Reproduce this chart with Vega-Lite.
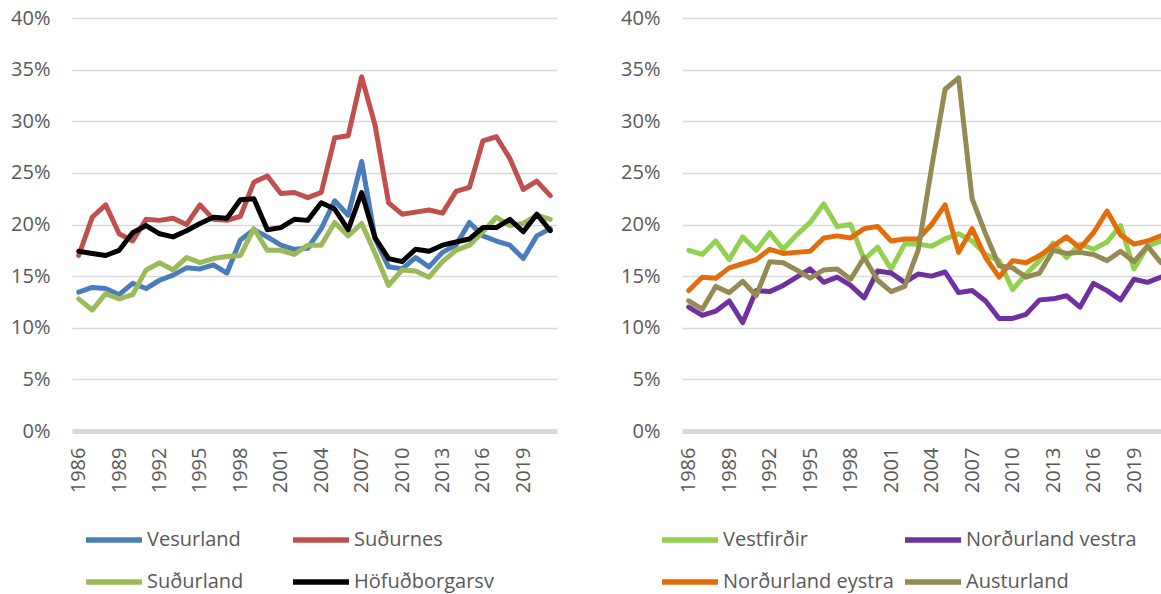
{
  "$schema": "https://vega.github.io/schema/vega-lite/v6.json",
  "padding": {"left": 10, "top": 8, "right": 0, "bottom": 0},
  "spacing": 63,
  "background": "white",
  "resolve": {"scale": {"color": "independent"}, "legend": {"color": "independent"}},
  "config": {
    "view": {"stroke": null},
    "font": "Open Sans",
    "axis": {"labelFont": "Open Sans", "labelColor": "#595959", "labelFontSize": 20},
    "legend": {"labelFont": "Open Sans", "labelColor": "#595959", "labelFontSize": 20, "labelLimit": 400}
  },
  "datasets": {
    "west": [
      {"region":"Vesurland","year":1986,"value":0.1345},{"region":"Vesurland","year":1987,"value":0.139},{"region":"Vesurland","year":1988,"value":0.138},{"region":"Vesurland","year":1989,"value":0.132},{"region":"Vesurland","year":1990,"value":0.143},{"region":"Vesurland","year":1991,"value":0.138},{"region":"Vesurland","year":1992,"value":0.146},{"region":"Vesurland","year":1993,"value":0.151},{"region":"Vesurland","year":1994,"value":0.158},{"region":"Vesurland","year":1995,"value":0.157},{"region":"Vesurland","year":1996,"value":0.161},{"region":"Vesurland","year":1997,"value":0.153},{"region":"Vesurland","year":1998,"value":0.185},{"region":"Vesurland","year":1999,"value":0.195},{"region":"Vesurland","year":2000,"value":0.188},{"region":"Vesurland","year":2001,"value":0.18},{"region":"Vesurland","year":2002,"value":0.176},{"region":"Vesurland","year":2003,"value":0.177},{"region":"Vesurland","year":2004,"value":0.196},{"region":"Vesurland","year":2005,"value":0.223},{"region":"Vesurland","year":2006,"value":0.209},{"region":"Vesurland","year":2007,"value":0.261},{"region":"Vesurland","year":2008,"value":0.186},{"region":"Vesurland","year":2009,"value":0.159},{"region":"Vesurland","year":2010,"value":0.157},{"region":"Vesurland","year":2011,"value":0.168},{"region":"Vesurland","year":2012,"value":0.159},{"region":"Vesurland","year":2013,"value":0.173},{"region":"Vesurland","year":2014,"value":0.18},{"region":"Vesurland","year":2015,"value":0.202},{"region":"Vesurland","year":2016,"value":0.189},{"region":"Vesurland","year":2017,"value":0.184},{"region":"Vesurland","year":2018,"value":0.18},{"region":"Vesurland","year":2019,"value":0.167},{"region":"Vesurland","year":2020,"value":0.189},{"region":"Vesurland","year":2021,"value":0.196},
      {"region":"Suðurnes","year":1986,"value":0.17},{"region":"Suðurnes","year":1987,"value":0.207},{"region":"Suðurnes","year":1988,"value":0.219},{"region":"Suðurnes","year":1989,"value":0.191},{"region":"Suðurnes","year":1990,"value":0.184},{"region":"Suðurnes","year":1991,"value":0.205},{"region":"Suðurnes","year":1992,"value":0.204},{"region":"Suðurnes","year":1993,"value":0.206},{"region":"Suðurnes","year":1994,"value":0.2},{"region":"Suðurnes","year":1995,"value":0.219},{"region":"Suðurnes","year":1996,"value":0.205},{"region":"Suðurnes","year":1997,"value":0.204},{"region":"Suðurnes","year":1998,"value":0.208},{"region":"Suðurnes","year":1999,"value":0.241},{"region":"Suðurnes","year":2000,"value":0.247},{"region":"Suðurnes","year":2001,"value":0.23},{"region":"Suðurnes","year":2002,"value":0.231},{"region":"Suðurnes","year":2003,"value":0.226},{"region":"Suðurnes","year":2004,"value":0.231},{"region":"Suðurnes","year":2005,"value":0.284},{"region":"Suðurnes","year":2006,"value":0.286},{"region":"Suðurnes","year":2007,"value":0.343},{"region":"Suðurnes","year":2008,"value":0.296},{"region":"Suðurnes","year":2009,"value":0.221},{"region":"Suðurnes","year":2010,"value":0.21},{"region":"Suðurnes","year":2011,"value":0.212},{"region":"Suðurnes","year":2012,"value":0.214},{"region":"Suðurnes","year":2013,"value":0.211},{"region":"Suðurnes","year":2014,"value":0.232},{"region":"Suðurnes","year":2015,"value":0.236},{"region":"Suðurnes","year":2016,"value":0.281},{"region":"Suðurnes","year":2017,"value":0.285},{"region":"Suðurnes","year":2018,"value":0.264},{"region":"Suðurnes","year":2019,"value":0.234},{"region":"Suðurnes","year":2020,"value":0.242},{"region":"Suðurnes","year":2021,"value":0.228},
      {"region":"Suðurland","year":1986,"value":0.128},{"region":"Suðurland","year":1987,"value":0.117},{"region":"Suðurland","year":1988,"value":0.133},{"region":"Suðurland","year":1989,"value":0.128},{"region":"Suðurland","year":1990,"value":0.132},{"region":"Suðurland","year":1991,"value":0.156},{"region":"Suðurland","year":1992,"value":0.163},{"region":"Suðurland","year":1993,"value":0.156},{"region":"Suðurland","year":1994,"value":0.168},{"region":"Suðurland","year":1995,"value":0.163},{"region":"Suðurland","year":1996,"value":0.167},{"region":"Suðurland","year":1997,"value":0.169},{"region":"Suðurland","year":1998,"value":0.17},{"region":"Suðurland","year":1999,"value":0.196},{"region":"Suðurland","year":2000,"value":0.175},{"region":"Suðurland","year":2001,"value":0.175},{"region":"Suðurland","year":2002,"value":0.171},{"region":"Suðurland","year":2003,"value":0.18},{"region":"Suðurland","year":2004,"value":0.18},{"region":"Suðurland","year":2005,"value":0.202},{"region":"Suðurland","year":2006,"value":0.189},{"region":"Suðurland","year":2007,"value":0.201},{"region":"Suðurland","year":2008,"value":0.172},{"region":"Suðurland","year":2009,"value":0.141},{"region":"Suðurland","year":2010,"value":0.156},{"region":"Suðurland","year":2011,"value":0.155},{"region":"Suðurland","year":2012,"value":0.149},{"region":"Suðurland","year":2013,"value":0.164},{"region":"Suðurland","year":2014,"value":0.175},{"region":"Suðurland","year":2015,"value":0.18},{"region":"Suðurland","year":2016,"value":0.193},{"region":"Suðurland","year":2017,"value":0.207},{"region":"Suðurland","year":2018,"value":0.199},{"region":"Suðurland","year":2019,"value":0.201},{"region":"Suðurland","year":2020,"value":0.209},{"region":"Suðurland","year":2021,"value":0.205},
      {"region":"Höfuðborgarsv","year":1986,"value":0.174},{"region":"Höfuðborgarsv","year":1987,"value":0.172},{"region":"Höfuðborgarsv","year":1988,"value":0.17},{"region":"Höfuðborgarsv","year":1989,"value":0.175},{"region":"Höfuðborgarsv","year":1990,"value":0.192},{"region":"Höfuðborgarsv","year":1991,"value":0.199},{"region":"Höfuðborgarsv","year":1992,"value":0.191},{"region":"Höfuðborgarsv","year":1993,"value":0.188},{"region":"Höfuðborgarsv","year":1994,"value":0.194},{"region":"Höfuðborgarsv","year":1995,"value":0.201},{"region":"Höfuðborgarsv","year":1996,"value":0.207},{"region":"Höfuðborgarsv","year":1997,"value":0.206},{"region":"Höfuðborgarsv","year":1998,"value":0.224},{"region":"Höfuðborgarsv","year":1999,"value":0.225},{"region":"Höfuðborgarsv","year":2000,"value":0.195},{"region":"Höfuðborgarsv","year":2001,"value":0.197},{"region":"Höfuðborgarsv","year":2002,"value":0.205},{"region":"Höfuðborgarsv","year":2003,"value":0.204},{"region":"Höfuðborgarsv","year":2004,"value":0.221},{"region":"Höfuðborgarsv","year":2005,"value":0.215},{"region":"Höfuðborgarsv","year":2006,"value":0.195},{"region":"Höfuðborgarsv","year":2007,"value":0.231},{"region":"Höfuðborgarsv","year":2008,"value":0.187},{"region":"Höfuðborgarsv","year":2009,"value":0.167},{"region":"Höfuðborgarsv","year":2010,"value":0.164},{"region":"Höfuðborgarsv","year":2011,"value":0.176},{"region":"Höfuðborgarsv","year":2012,"value":0.174},{"region":"Höfuðborgarsv","year":2013,"value":0.18},{"region":"Höfuðborgarsv","year":2014,"value":0.183},{"region":"Höfuðborgarsv","year":2015,"value":0.186},{"region":"Höfuðborgarsv","year":2016,"value":0.197},{"region":"Höfuðborgarsv","year":2017,"value":0.197},{"region":"Höfuðborgarsv","year":2018,"value":0.205},{"region":"Höfuðborgarsv","year":2019,"value":0.193},{"region":"Höfuðborgarsv","year":2020,"value":0.21},{"region":"Höfuðborgarsv","year":2021,"value":0.194}
    ],
    "east": [
      {"region":"Vestfirðir","year":1986,"value":0.175},{"region":"Vestfirðir","year":1987,"value":0.171},{"region":"Vestfirðir","year":1988,"value":0.184},{"region":"Vestfirðir","year":1989,"value":0.166},{"region":"Vestfirðir","year":1990,"value":0.188},{"region":"Vestfirðir","year":1991,"value":0.175},{"region":"Vestfirðir","year":1992,"value":0.192},{"region":"Vestfirðir","year":1993,"value":0.176},{"region":"Vestfirðir","year":1994,"value":0.19},{"region":"Vestfirðir","year":1995,"value":0.202},{"region":"Vestfirðir","year":1996,"value":0.22},{"region":"Vestfirðir","year":1997,"value":0.198},{"region":"Vestfirðir","year":1998,"value":0.2},{"region":"Vestfirðir","year":1999,"value":0.166},{"region":"Vestfirðir","year":2000,"value":0.178},{"region":"Vestfirðir","year":2001,"value":0.157},{"region":"Vestfirðir","year":2002,"value":0.181},{"region":"Vestfirðir","year":2003,"value":0.181},{"region":"Vestfirðir","year":2004,"value":0.179},{"region":"Vestfirðir","year":2005,"value":0.186},{"region":"Vestfirðir","year":2006,"value":0.191},{"region":"Vestfirðir","year":2007,"value":0.184},{"region":"Vestfirðir","year":2008,"value":0.171},{"region":"Vestfirðir","year":2009,"value":0.165},{"region":"Vestfirðir","year":2010,"value":0.137},{"region":"Vestfirðir","year":2011,"value":0.152},{"region":"Vestfirðir","year":2012,"value":0.165},{"region":"Vestfirðir","year":2013,"value":0.182},{"region":"Vestfirðir","year":2014,"value":0.168},{"region":"Vestfirðir","year":2015,"value":0.181},{"region":"Vestfirðir","year":2016,"value":0.176},{"region":"Vestfirðir","year":2017,"value":0.183},{"region":"Vestfirðir","year":2018,"value":0.199},{"region":"Vestfirðir","year":2019,"value":0.157},{"region":"Vestfirðir","year":2020,"value":0.179},{"region":"Vestfirðir","year":2021,"value":0.184},
      {"region":"Norðurland vestra","year":1986,"value":0.12},{"region":"Norðurland vestra","year":1987,"value":0.112},{"region":"Norðurland vestra","year":1988,"value":0.116},{"region":"Norðurland vestra","year":1989,"value":0.126},{"region":"Norðurland vestra","year":1990,"value":0.105},{"region":"Norðurland vestra","year":1991,"value":0.136},{"region":"Norðurland vestra","year":1992,"value":0.135},{"region":"Norðurland vestra","year":1993,"value":0.141},{"region":"Norðurland vestra","year":1994,"value":0.149},{"region":"Norðurland vestra","year":1995,"value":0.157},{"region":"Norðurland vestra","year":1996,"value":0.144},{"region":"Norðurland vestra","year":1997,"value":0.149},{"region":"Norðurland vestra","year":1998,"value":0.141},{"region":"Norðurland vestra","year":1999,"value":0.129},{"region":"Norðurland vestra","year":2000,"value":0.155},{"region":"Norðurland vestra","year":2001,"value":0.153},{"region":"Norðurland vestra","year":2002,"value":0.144},{"region":"Norðurland vestra","year":2003,"value":0.152},{"region":"Norðurland vestra","year":2004,"value":0.15},{"region":"Norðurland vestra","year":2005,"value":0.154},{"region":"Norðurland vestra","year":2006,"value":0.134},{"region":"Norðurland vestra","year":2007,"value":0.136},{"region":"Norðurland vestra","year":2008,"value":0.126},{"region":"Norðurland vestra","year":2009,"value":0.109},{"region":"Norðurland vestra","year":2010,"value":0.109},{"region":"Norðurland vestra","year":2011,"value":0.113},{"region":"Norðurland vestra","year":2012,"value":0.127},{"region":"Norðurland vestra","year":2013,"value":0.128},{"region":"Norðurland vestra","year":2014,"value":0.131},{"region":"Norðurland vestra","year":2015,"value":0.12},{"region":"Norðurland vestra","year":2016,"value":0.143},{"region":"Norðurland vestra","year":2017,"value":0.136},{"region":"Norðurland vestra","year":2018,"value":0.127},{"region":"Norðurland vestra","year":2019,"value":0.147},{"region":"Norðurland vestra","year":2020,"value":0.144},{"region":"Norðurland vestra","year":2021,"value":0.149},
      {"region":"Norðurland eystra","year":1986,"value":0.136},{"region":"Norðurland eystra","year":1987,"value":0.149},{"region":"Norðurland eystra","year":1988,"value":0.148},{"region":"Norðurland eystra","year":1989,"value":0.158},{"region":"Norðurland eystra","year":1990,"value":0.162},{"region":"Norðurland eystra","year":1991,"value":0.166},{"region":"Norðurland eystra","year":1992,"value":0.176},{"region":"Norðurland eystra","year":1993,"value":0.172},{"region":"Norðurland eystra","year":1994,"value":0.173},{"region":"Norðurland eystra","year":1995,"value":0.174},{"region":"Norðurland eystra","year":1996,"value":0.187},{"region":"Norðurland eystra","year":1997,"value":0.189},{"region":"Norðurland eystra","year":1998,"value":0.187},{"region":"Norðurland eystra","year":1999,"value":0.196},{"region":"Norðurland eystra","year":2000,"value":0.198},{"region":"Norðurland eystra","year":2001,"value":0.184},{"region":"Norðurland eystra","year":2002,"value":0.186},{"region":"Norðurland eystra","year":2003,"value":0.186},{"region":"Norðurland eystra","year":2004,"value":0.2},{"region":"Norðurland eystra","year":2005,"value":0.219},{"region":"Norðurland eystra","year":2006,"value":0.173},{"region":"Norðurland eystra","year":2007,"value":0.196},{"region":"Norðurland eystra","year":2008,"value":0.168},{"region":"Norðurland eystra","year":2009,"value":0.149},{"region":"Norðurland eystra","year":2010,"value":0.165},{"region":"Norðurland eystra","year":2011,"value":0.163},{"region":"Norðurland eystra","year":2012,"value":0.17},{"region":"Norðurland eystra","year":2013,"value":0.179},{"region":"Norðurland eystra","year":2014,"value":0.188},{"region":"Norðurland eystra","year":2015,"value":0.177},{"region":"Norðurland eystra","year":2016,"value":0.192},{"region":"Norðurland eystra","year":2017,"value":0.213},{"region":"Norðurland eystra","year":2018,"value":0.19},{"region":"Norðurland eystra","year":2019,"value":0.181},{"region":"Norðurland eystra","year":2020,"value":0.184},{"region":"Norðurland eystra","year":2021,"value":0.189},
      {"region":"Austurland","year":1986,"value":0.126},{"region":"Austurland","year":1987,"value":0.118},{"region":"Austurland","year":1988,"value":0.14},{"region":"Austurland","year":1989,"value":0.134},{"region":"Austurland","year":1990,"value":0.145},{"region":"Austurland","year":1991,"value":0.131},{"region":"Austurland","year":1992,"value":0.164},{"region":"Austurland","year":1993,"value":0.163},{"region":"Austurland","year":1994,"value":0.156},{"region":"Austurland","year":1995,"value":0.148},{"region":"Austurland","year":1996,"value":0.156},{"region":"Austurland","year":1997,"value":0.157},{"region":"Austurland","year":1998,"value":0.147},{"region":"Austurland","year":1999,"value":0.168},{"region":"Austurland","year":2000,"value":0.146},{"region":"Austurland","year":2001,"value":0.135},{"region":"Austurland","year":2002,"value":0.14},{"region":"Austurland","year":2003,"value":0.175},{"region":"Austurland","year":2004,"value":0.255},{"region":"Austurland","year":2005,"value":0.331},{"region":"Austurland","year":2006,"value":0.342},{"region":"Austurland","year":2007,"value":0.225},{"region":"Austurland","year":2008,"value":0.191},{"region":"Austurland","year":2009,"value":0.16},{"region":"Austurland","year":2010,"value":0.158},{"region":"Austurland","year":2011,"value":0.149},{"region":"Austurland","year":2012,"value":0.153},{"region":"Austurland","year":2013,"value":0.175},{"region":"Austurland","year":2014,"value":0.172},{"region":"Austurland","year":2015,"value":0.173},{"region":"Austurland","year":2016,"value":0.171},{"region":"Austurland","year":2017,"value":0.165},{"region":"Austurland","year":2018,"value":0.174},{"region":"Austurland","year":2019,"value":0.164},{"region":"Austurland","year":2020,"value":0.179},{"region":"Austurland","year":2021,"value":0.163}
    ]
  },
  "hconcat": [
    {
      "width": 485,
      "height": 413,
      "data": {"name": "west"},
      "mark": {"type": "line", "strokeWidth": 5, "strokeJoin": "round", "strokeCap": "round"},
      "encoding": {
        "x": {"field": "year", "type": "quantitative",
          "scale": {"domain": [1985.5, 2021.5], "nice": false, "zero": false},
          "axis": {"title": null, "values": [1986,1989,1992,1995,1998,2001,2004,2007,2010,2013,2016,2019], "format": "d", "labelAngle": -90, "grid": false, "ticks": false, "domainColor": "#d9d9d9", "domainWidth": 5, "labelPadding": 16}},
        "y": {"field": "value", "type": "quantitative",
          "scale": {"domain": [0, 0.4], "nice": false},
          "axis": {"title": null, "values": [0,0.05,0.1,0.15,0.2,0.25,0.3,0.35,0.4], "format": ".0%", "grid": true, "gridColor": "#d9d9d9", "gridWidth": 1.5, "domain": false, "ticks": false, "labelPadding": 22}},
        "color": {"field": "region", "type": "nominal",
          "scale": {"domain": ["Vesurland", "Suðurnes", "Suðurland", "Höfuðborgarsv"], "range": ["#4a7ebb", "#c0504d", "#9bbb59", "#000000"]},
          "legend": {"orient": "none", "legendX": 11, "legendY": 491, "title": null, "columns": 2, "direction": "horizontal", "symbolType": "stroke", "symbolSize": 3136, "symbolStrokeWidth": 5.5, "labelOffset": 2, "columnPadding": 38, "rowPadding": -6}}
      }
    },
    {
      "width": 479,
      "height": 413,
      "data": {"name": "east"},
      "mark": {"type": "line", "strokeWidth": 5, "strokeJoin": "round", "strokeCap": "round"},
      "encoding": {
        "x": {"field": "year", "type": "quantitative",
          "scale": {"domain": [1985.5, 2021], "nice": false, "zero": false},
          "axis": {"title": null, "values": [1986,1989,1992,1995,1998,2001,2004,2007,2010,2013,2016,2019], "format": "d", "labelAngle": -90, "grid": false, "ticks": false, "domainColor": "#d9d9d9", "domainWidth": 5, "labelPadding": 16}},
        "y": {"field": "value", "type": "quantitative",
          "scale": {"domain": [0, 0.4], "nice": false},
          "axis": {"title": null, "values": [0,0.05,0.1,0.15,0.2,0.25,0.3,0.35,0.4], "format": ".0%", "grid": true, "gridColor": "#d9d9d9", "gridWidth": 1.5, "domain": false, "ticks": false, "labelPadding": 22}},
        "color": {"field": "region", "type": "nominal",
          "scale": {"domain": ["Vestfirðir", "Norðurland vestra", "Norðurland eystra", "Austurland"], "range": ["#92d050", "#7030a0", "#e46c0a", "#948a54"]},
          "legend": {"orient": "none", "legendX": -23, "legendY": 491, "title": null, "columns": 2, "direction": "horizontal", "symbolType": "stroke", "symbolSize": 3136, "symbolStrokeWidth": 5.5, "labelOffset": 2, "columnPadding": 0, "rowPadding": -6}}
      }
    }
  ]
}
